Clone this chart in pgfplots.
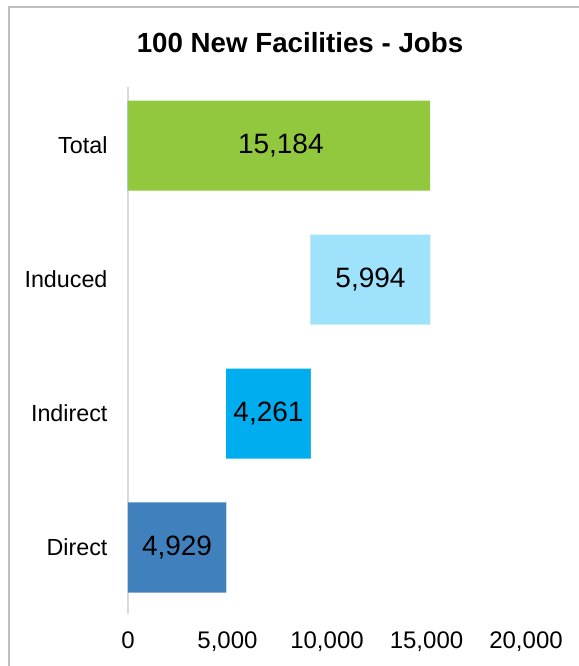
\documentclass[border=0pt]{standalone}
\usepackage{fontspec}
\setmainfont{Liberation Sans}
\usepackage{pgfplots}
\pgfplotsset{compat=1.18}
\usetikzlibrary{calc}
\definecolor{cgreen}{HTML}{92C83E}
\definecolor{clight}{HTML}{9EE2FB}
\definecolor{ccyan}{HTML}{00AEEF}
\definecolor{cdirect}{HTML}{4081BD}
\definecolor{frame}{HTML}{BFBFBF}
\definecolor{axgray}{HTML}{D9D9D9}
\begin{document}
\begin{tikzpicture}
\begin{axis}[
  name=ax,
  scale only axis, width=398pt, height=527pt,
  xmin=0, xmax=20000, ymin=-0.5, ymax=3.433,
  xtick={0,5000,10000,15000,20000},
  scaled x ticks=false,
  /pgf/number format/1000 sep={,},
  /pgf/number format/assume math mode=true,
  ytick={0,1,2,3},
  yticklabels={Direct,Indirect,Induced,Total},
  axis line style={draw=none},
  major tick length=0pt,
  tick style={draw=none},
  extra x ticks={0},
  extra x tick labels={},
  extra x tick style={grid=major, major grid style={axgray, line width=1.2pt}},
  xticklabel style={font=\fontsize{24}{28}\selectfont, yshift=-14pt},
  yticklabel style={font=\fontsize{23.3}{28}\selectfont, xshift=-17pt},
  clip=false,
]
\addplot[xbar, stack plots=x, bar width=90pt, draw=none, fill=none, forget plot]
  coordinates {(0,0) (4929,1) (9190,2) (0,3)};
\addplot[xbar, stack plots=x, bar width=90pt, draw=none, fill=cdirect]
  coordinates {(4929,0) (0,1) (0,2) (0,3)};
\addplot[xbar, stack plots=x, bar width=90pt, draw=none, fill=ccyan]
  coordinates {(0,0) (4261,1) (0,2) (0,3)};
\addplot[xbar, stack plots=x, bar width=90pt, draw=none, fill=clight]
  coordinates {(0,0) (0,1) (5994,2) (0,3)};
\addplot[xbar, stack plots=x, bar width=90pt, draw=none, fill=cgreen]
  coordinates {(0,0) (0,1) (0,2) (15184,3)};
\addplot[draw=none, mark=none, nodes near coords, point meta=explicit symbolic,
  every node near coord/.append style={anchor=center, font=\fontsize{28}{32}\selectfont, text=black}]
  coordinates {(2464.5,0)[4,929] (7059.5,1)[4,261] (12187,2)[5,994] (7680,3)[15,184]};
\end{axis}
\coordinate (O) at ($(ax.origin)+(-128pt,-118.5pt)$);
\begin{scope}[shift={(O)}, x=1pt, y=1pt]
\draw[frame, line width=1.2pt] (9,-5) -- (9,659) -- (583,659);
\node[font=\fontsize{27.7}{32}\selectfont\bfseries] at (300,623) {100 New Facilities - Jobs};
\end{scope}
\pgfresetboundingbox
\path[use as bounding box] (O) rectangle ($(O)+(578pt,666pt)$);
\end{tikzpicture}
\end{document}
